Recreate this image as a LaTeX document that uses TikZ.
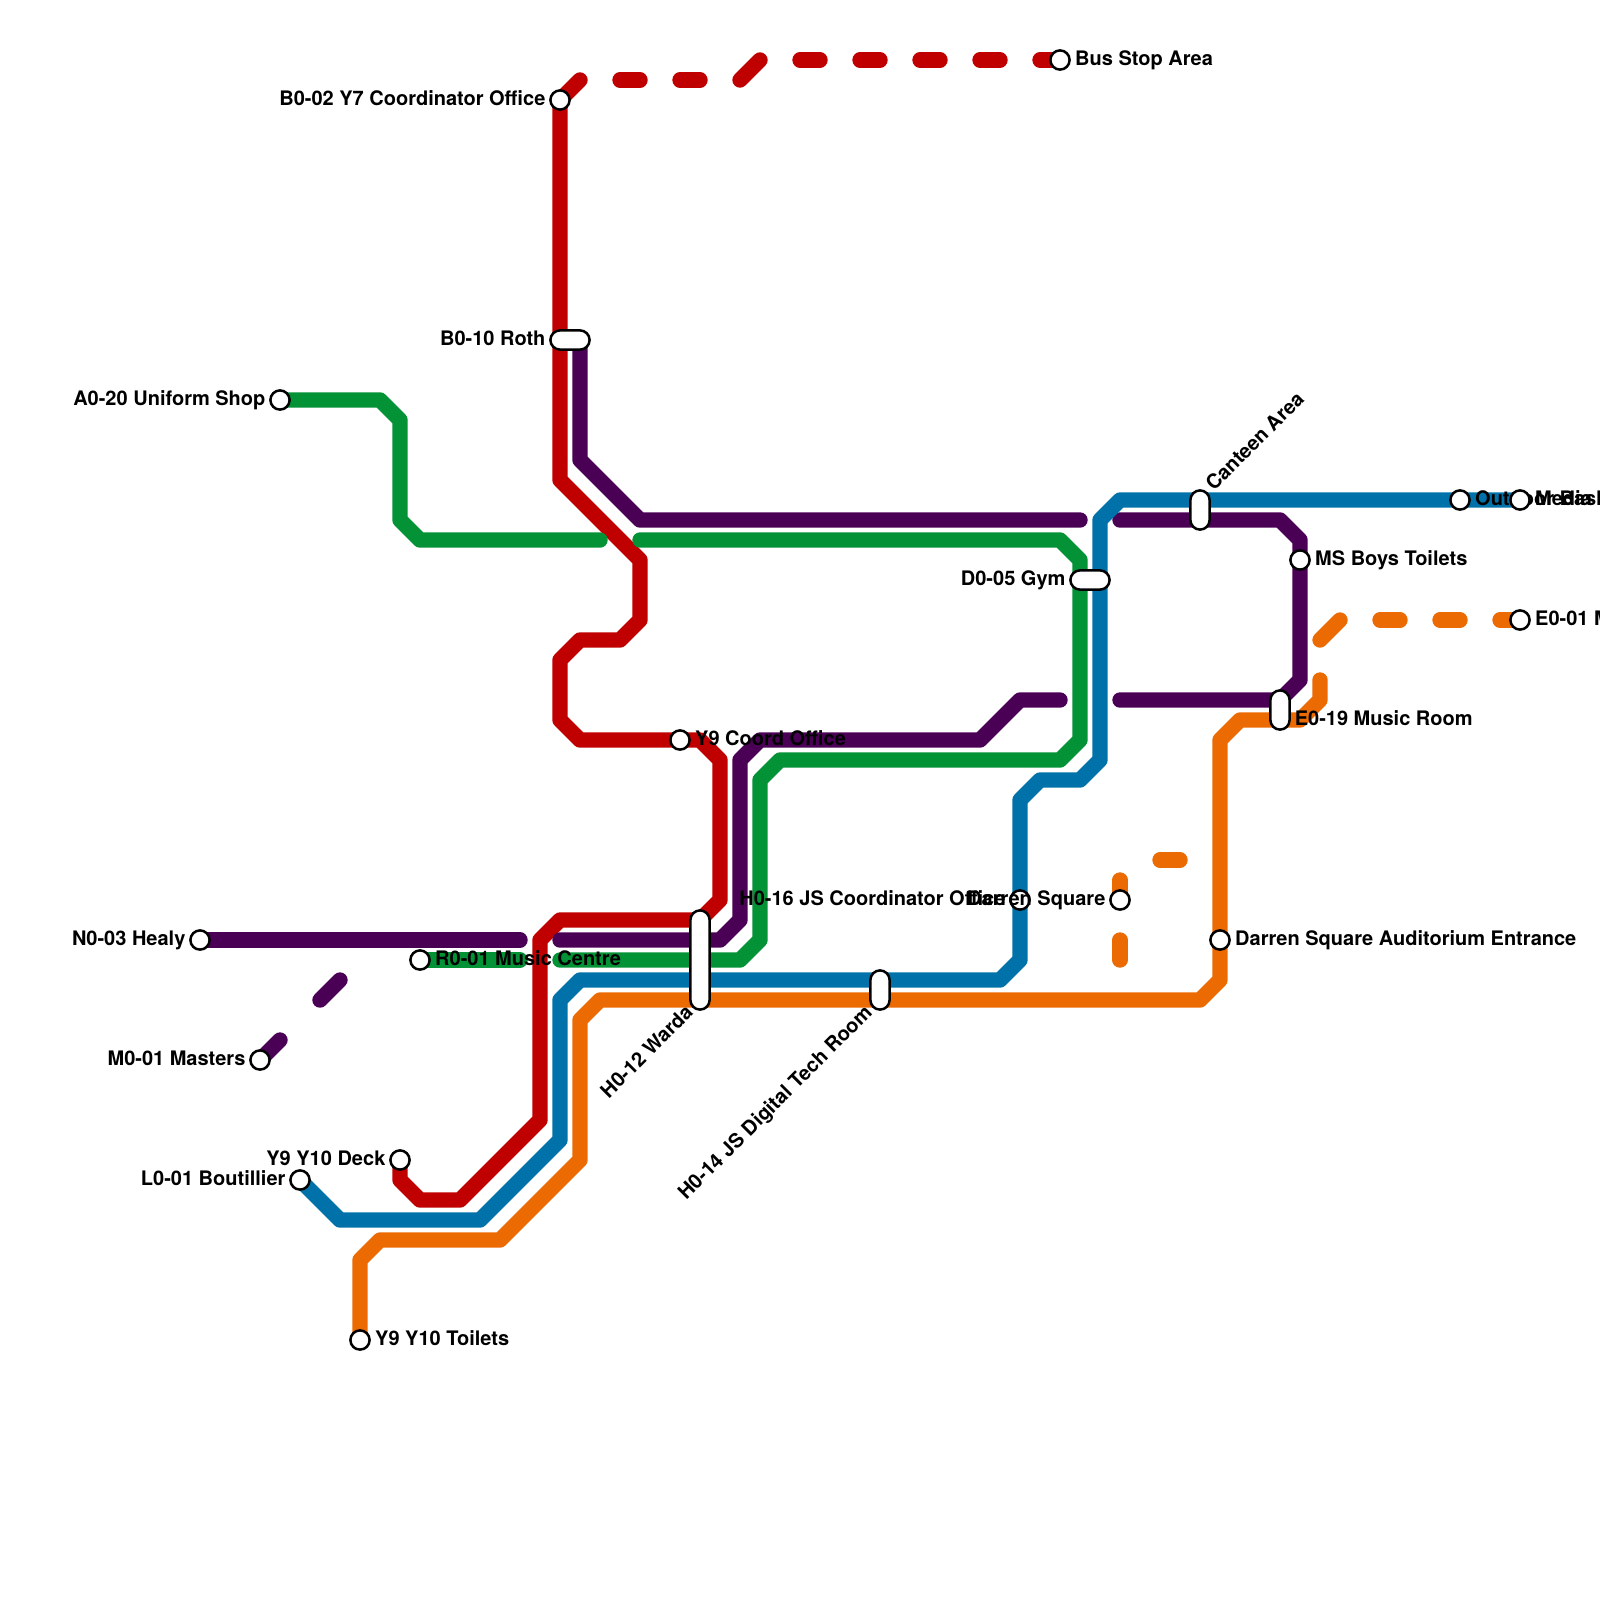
\documentclass[tikz,border=0pt]{standalone}
\usepackage{fontspec}
\setmainfont{TeX Gyre Heros}
\usepackage{xcolor}
\usetikzlibrary{positioning,calc,backgrounds}
\definecolor{redroute}{HTML}{C00000}
\definecolor{purpleroute}{HTML}{4A0055}
\definecolor{greenroute}{HTML}{039235}
\definecolor{blueroute}{HTML}{0071A9}
\definecolor{orangeroute}{HTML}{EB6A02}
\tikzset{
  route/.style={line width=0.77cm,line cap=round,line join=round},
  gapped/.style={dash pattern=on 1cm off 2cm,dash phase=1cm},
  stn/.style={circle,draw=black,fill=white,line width=0.125cm,minimum size=0.96cm,inner sep=0pt,outer sep=0pt},
  pill/.style={rectangle,draw=black,fill=white,line width=0.125cm,rounded corners=0.48cm,inner sep=0pt,outer sep=0pt},
  pillv/.style={pill,minimum width=0.96cm,minimum height=#1},
  pillh/.style={pill,minimum height=0.96cm,minimum width=#1},
  lbl/.style={font=\bfseries\fontsize{28.45}{34}\selectfont,text=black,inner sep=0pt,outer sep=0pt,
              text height=0.72cm,text depth=0cm,yshift=0.09cm},
}
\begin{document}
\begin{tikzpicture}[x=1cm,y=-1cm]
  \useasboundingbox (0,0) rectangle (80,80);
  % Routes
  \begin{scope}[on background layer]
    \draw[route,redroute] (28,5) -- (28,24) -- (32,28) -- (32,31) -- (31,32) -- (29,32) -- (28,33) -- (28,36)
          -- (29,37) -- (35,37) -- (36,38) -- (36,45) -- (35,46) -- (28,46) -- (27,47) -- (27,56)
          -- (23,60) -- (21,60) -- (20,59) -- (20,58);
    \draw[route,redroute] (28,5) -- (29,4);
    \draw[route,redroute,gapped] (29,4) -- (37,4);
    \draw[route,redroute] (37,4) -- (38,3);
    \draw[route,redroute,gapped] (38,3) -- (53,3);
    \draw[route,purpleroute] (10,47) -- (26,47);
    \draw[route,purpleroute] (28,47) -- (36,47) -- (37,46) -- (37,38) -- (38,37) -- (49,37) -- (51,35) -- (53,35);
    \draw[route,purpleroute] (29,17) -- (29,23) -- (32,26) -- (54,26);
    \draw[route,purpleroute] (56,26) -- (64,26) -- (65,27) -- (65,34) -- (64,35) -- (56,35);
    \draw[route,purpleroute,dash pattern=on 1.414cm off 2.828cm] (13,53) -- (17,49);
    \draw[route,greenroute] (14,20) -- (19,20) -- (20,21) -- (20,26) -- (21,27) -- (30,27);
    \draw[route,greenroute] (32,27) -- (53,27) -- (54,28) -- (54,37) -- (53,38) -- (39,38) -- (38,39) -- (38,47)
          -- (37,48) -- (28,48);
    \draw[route,greenroute] (21,48) -- (26,48);
    \draw[route,blueroute] (15,59) -- (17,61) -- (24,61) -- (28,57) -- (28,50) -- (29,49) -- (50,49) -- (51,48)
          -- (51,40) -- (52,39) -- (54,39) -- (55,38) -- (55,26) -- (56,25) -- (76,25);
    \draw[route,orangeroute] (66,34) -- (66,35) -- (65,36) -- (62,36) -- (61,37) -- (61,49) -- (60,50) -- (30,50)
          -- (29,51) -- (29,58) -- (25,62) -- (19,62) -- (18,63) -- (18,67);
    \draw[route,orangeroute] (66,32) -- (67,31);
    \draw[route,orangeroute,gapped] (67,31) -- (76,31);
    \draw[route,orangeroute,dash pattern=on 1cm off 2cm] (56,44) -- (56,48);
    \draw[route,orangeroute] (58,43) -- (59,43);
  \end{scope}
  % Stations and their labels
  \node[stn] (yseven) at (28,5) {};
  \node[lbl,left=0.25cm of yseven] (ysevenT) {B0-02 Y7 Coordinator Office};
  \node[stn] (busstop) at (53,3) {};
  \node[lbl,right=0.28cm of busstop] (busstopT) {Bus Stop Area};
  \node[pillh=1.96cm] (roth) at (28.5,17) {};
  \node[lbl,left=0.25cm of roth] (rothT) {B0-10 Roth};
  \node[stn] (uniform) at (14,20) {};
  \node[lbl,left=0.25cm of uniform] (uniformT) {A0-20 Uniform Shop};
  \node[stn] (coord) at (34,37) {};
  \node[lbl,right=0.28cm of coord] (coordT) {Y9 Coord Office};
  \node[stn] (healy) at (10,47) {};
  \node[lbl,left=0.25cm of healy] (healyT) {N0-03 Healy};
  \node[stn] (music) at (21,48) {};
  \node[lbl,right=0.28cm of music] (musicT) {R0-01 Music Centre};
  \node[stn] (masters) at (13,53) {};
  \node[lbl,left=0.25cm of masters] (mastersT) {M0-01 Masters};
  \node[stn] (boutillier) at (15,59) {};
  \node[lbl,left=0.25cm of boutillier] (boutillierT) {L0-01 Boutillier};
  \node[stn] (deck) at (20,58) {};
  \node[lbl,left=0.25cm of deck] (deckT) {Y9 Y10 Deck};
  \node[stn] (toilets) at (18,67) {};
  \node[lbl,right=0.28cm of toilets] (toiletsT) {Y9 Y10 Toilets};
  \node[pillv=4.96cm] (warda) at (35,48) {};
  \node[lbl,rotate=45,anchor=east] (wardaT) at ($(warda.south)+(-0.55,0.05)$) {H0-12 Warda};
  \node[pillv=1.96cm] (tech) at (44,49.5) {};
  \node[lbl,rotate=45,anchor=east] (techT) at ($(tech.south)+(-0.6,0.05)$) {H0-14 JS Digital Tech Room};
  \node[stn] (jscoord) at (51,45) {};
  \node[lbl,left=0.25cm of jscoord] (jscoordT) {H0-16 JS Coordinator Office};
  \node[stn] (square) at (56,45) {};
  \node[lbl,left=0.25cm of square] (squareT) {Darren Square};
  \node[stn] (auditorium) at (61,47) {};
  \node[lbl,right=0.28cm of auditorium] (auditoriumT) {Darren Square Auditorium Entrance};
  \node[pillh=1.96cm] (gym) at (54.5,29) {};
  \node[lbl,left=0.25cm of gym] (gymT) {D0-05 Gym};
  \node[pillv=1.96cm] (canteen) at (60,25.5) {};
  \node[lbl,rotate=45,anchor=west] (canteenT) at ($(canteen.north)+(0.45,-0.1)$) {Canteen Area};
  \node[stn] (outdoor) at (73,25) {};
  \node[lbl,right=0.28cm of outdoor] (outdoorT) {Outdoor Bask};
  \node[stn] (media) at (76,25) {};
  \node[lbl,right=0.28cm of media] (mediaT) {Media};
  \node[stn] (boys) at (65,28) {};
  \node[lbl,right=0.28cm of boys] (boysT) {MS Boys Toilets};
  \node[stn] (eroom) at (76,31) {};
  \node[lbl,right=0.28cm of eroom] (eroomT) {E0-01 M};
  \node[pillv=1.96cm] (mroom) at (64,35.5) {};
  \node[lbl,anchor=west] (mroomT) at ($(mroom.east)+(0.26,0.5)$) {E0-19 Music Room};
\end{tikzpicture}
\end{document}
